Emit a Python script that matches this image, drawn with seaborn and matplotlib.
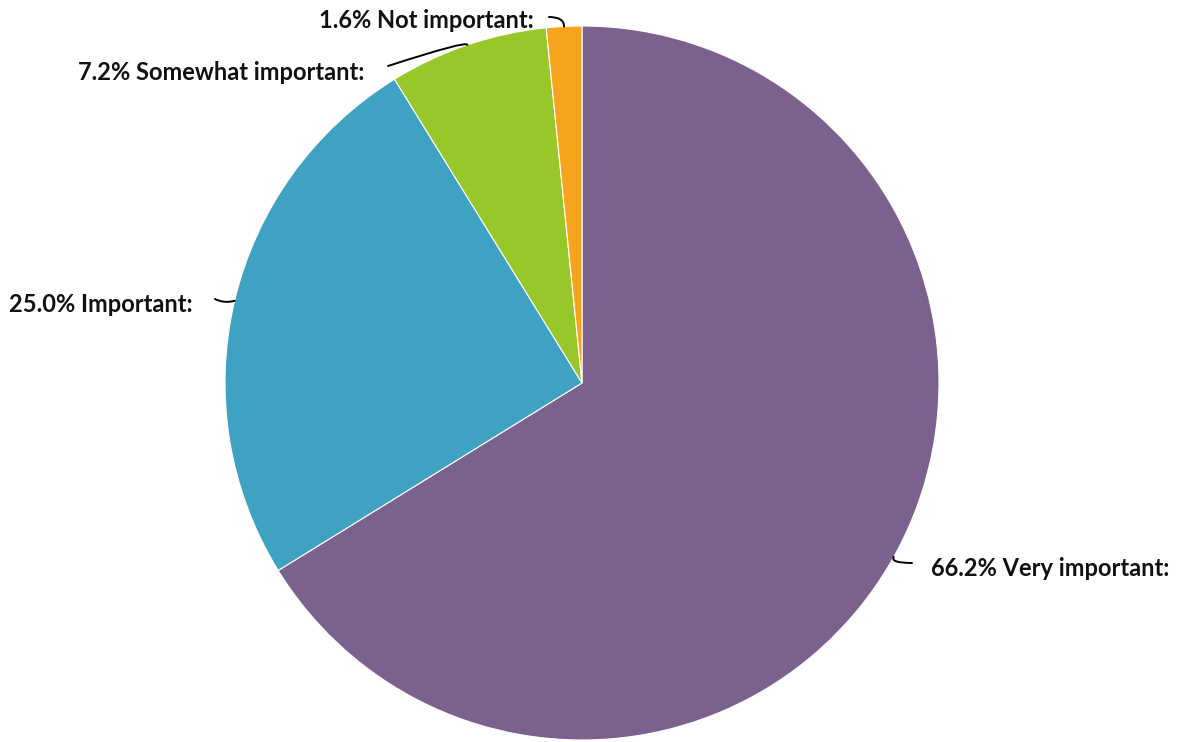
import numpy as np
import matplotlib
matplotlib.use("Agg")
import matplotlib.pyplot as plt
import seaborn as sns

categories = ["Very important", "Important", "Somewhat important", "Not important"]
values = [66.2, 25.0, 7.2, 1.6]
colors = ["#7B618E", "#40A2C2", "#97C728", "#F5A41C"]
labels = ["66.2% Very important:", "25.0% Important:", "7.2% Somewhat important:", "1.6% Not important:"]

sns.set_theme(style="white")
plt.rcParams['font.family'] = ['Lato', 'DejaVu Sans']

W, H = 1181, 742
fig = plt.figure(figsize=(W / 100, H / 100), dpi=100)
ax = fig.add_axes([0, 0, 1, 1])

cx, cy, r = 582, H - 383, 357
palette = sns.color_palette(colors)
ax.pie(values, colors=palette, startangle=90, counterclock=False,
       center=(cx, cy), radius=r, frame=True,
       wedgeprops=dict(edgecolor='white', linewidth=0.8))
ax.set_xlim(0, W)
ax.set_ylim(0, H)
ax.set_aspect('equal')
ax.axis('off')

# label layout (pixel coords, y from top): line end, text pos, alignment, connection
layout = [
    ((912, 563), (931, 568), 'left', "angle3,angleA=0,angleB=60"),
    ((215, 299), (193, 305), 'right', "arc3,rad=0.2"),
    ((388, 66), (364, 72), 'right', "angle3,angleA=18,angleB=95"),
    ((549, 17), (534, 20), 'right', "angle3,angleA=0,angleB=90"),
]

total = sum(values)
start = 90.0
for val, lab, (lend, tpos, ha, conn) in zip(values, labels, layout):
    span = val / total * 360
    mid = np.deg2rad(start - span / 2)
    start -= span
    ex, ey = cx + r * np.cos(mid), cy + r * np.sin(mid)
    ax.annotate('', xy=(ex, ey), xytext=(lend[0], H - lend[1]),
                arrowprops=dict(arrowstyle='-', color='black', lw=1.4,
                                connectionstyle=conn, shrinkA=0, shrinkB=0))
    ax.text(tpos[0], H - tpos[1], lab, ha=ha, va='center', fontsize=17,
            fontweight='bold', color='#111111')

fig.savefig("out.png", dpi=100, facecolor='white')
